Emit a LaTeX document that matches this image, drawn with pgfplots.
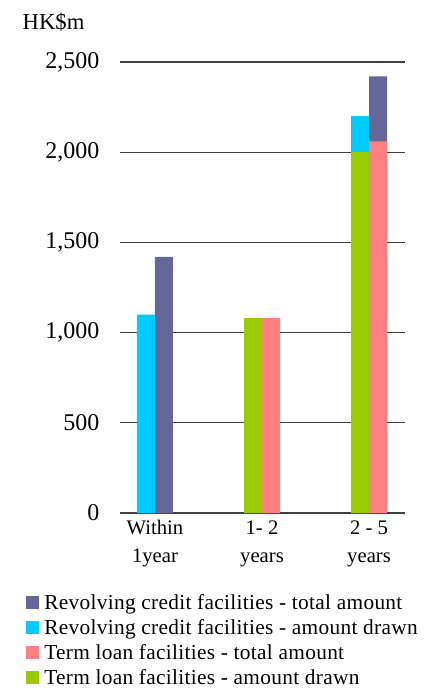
\documentclass[border=0pt]{standalone}
\usepackage{pgfplots}
\pgfplotsset{compat=1.18}
\usepackage{fontspec}
\setmainfont{Liberation Serif}
\definecolor{cPurple}{HTML}{666699}
\definecolor{cCyan}{HTML}{00CCFF}
\definecolor{cSalmon}{HTML}{FF8080}
\definecolor{cGreen}{HTML}{99CC00}
\begin{document}
\begin{tikzpicture}
\begin{axis}[
  scale only axis,
  width=213.75pt, height=338.25pt,
  xmin=-0.327, xmax=2.336,
  ymin=0, ymax=2500,
  ybar, bar width=13.5pt,
  xtick={0,1,2},
  xticklabels={{Within\\1year},{1- 2\\years},{2 - 5\\years}},
  xticklabel style={align=center, font=\fontsize{15.5}{21}\selectfont, yshift=-2pt},
  ytick={0,500,1000,1500,2000,2500},
  yticklabel style={font=\fontsize{18}{20}\selectfont, xshift=-12pt},
  /pgf/number format/assume math mode=true,
  /pgf/number format/1000 sep={,},
  major tick length=0pt,
  ymajorgrids, grid style={black!75, line width=0.8pt},
  axis x line*=bottom, axis y line*=left,
  y axis line style={draw=none},
  x axis line style={black!75, line width=0.8pt, -},
  legend style={at={(axis description cs:0,0)}, anchor=north west,
    xshift=-71pt, yshift=-59pt, draw=none, fill=none,
    font=\fontsize{16}{18}\selectfont\addfontfeatures{LetterSpace=1.5}, row sep=2pt,
    inner sep=0pt},
  legend cell align=left,
  legend image code/.code={\fill[#1] (0pt,-4.5pt) rectangle (9.75pt,5.25pt);\path (12pt,0pt);},
  clip=false,
]
\addplot[fill=cPurple, draw=none, bar shift=6.75pt] coordinates {(0,1420) (2,2420)};
\addplot[fill=cCyan, draw=none, bar shift=-6.75pt] coordinates {(0,1100) (2,2200)};
\addplot[fill=cSalmon, draw=none, bar shift=6.75pt] coordinates {(1,1080) (2,2060)};
\addplot[fill=cGreen, draw=none, bar shift=-6.75pt] coordinates {(1,1080) (2,2000)};
\legend{Revolving credit facilities - total amount,
        Revolving credit facilities - amount drawn,
        Term loan facilities - total amount,
        Term loan facilities - amount drawn}
\node[anchor=base west, font=\fontsize{17}{20}\selectfont, xshift=-76.5pt, yshift=24pt] at (axis description cs:0,1) {HK\$m};
\coordinate (O) at (rel axis cs:0,0);
\end{axis}
\pgfresetboundingbox
\path (O) ++(-90pt,-132pt) rectangle ++(321.75pt,516.75pt);
\end{tikzpicture}
\end{document}
